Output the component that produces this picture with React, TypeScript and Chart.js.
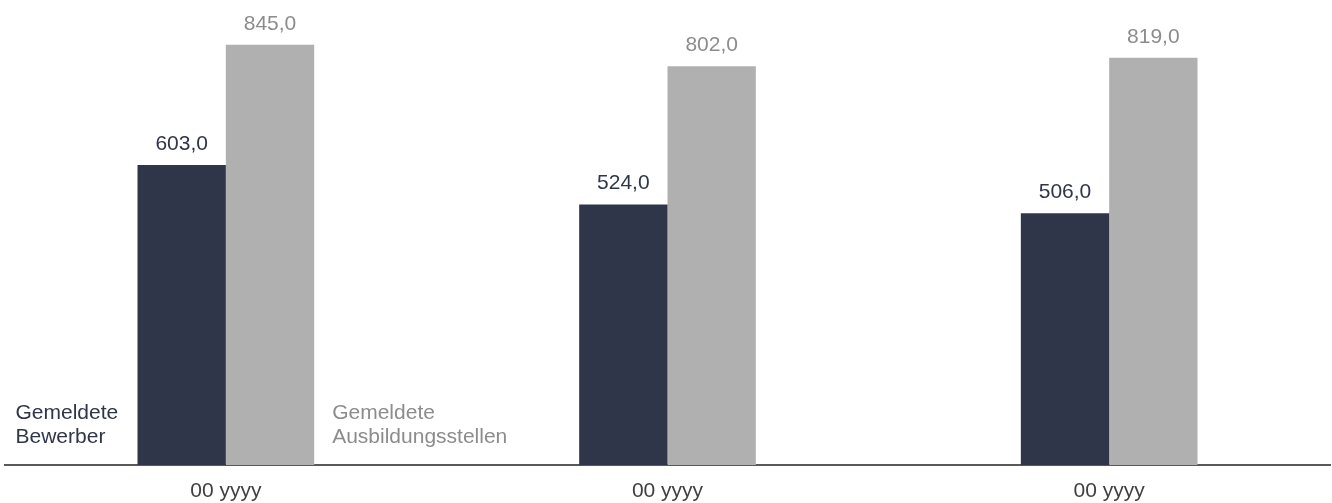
import React, { useEffect, useRef } from "react";
import { Chart, registerables } from "chart.js";

Chart.register(...registerables);

const categories = ["00 yyyy", "00 yyyy", "00 yyyy"];
const seriesNames = ["Gemeldete Bewerber", "Gemeldete Ausbildungsstellen"];
const bewerber = [603, 524, 506];
const stellen = [845, 802, 819];
const legendLines = [["Gemeldete", "Bewerber"], ["Gemeldete", "Ausbildungsstellen"]];

const DARK = "#2F3649";
const GREY = "#B0B0B0";
const GREY_TEXT = "#8C8C8C";
const FONT = 'Arial, "Liberation Sans", sans-serif';

const fmt = (v: number) => v.toFixed(1).replace(".", ",");

const labelPlugin = {
  id: "valueLabels",
  afterDatasetsDraw(chart: any) {
    const ctx = chart.ctx;
    ctx.save();
    ctx.font = `21px ${FONT}`;
    ctx.textAlign = "center";
    ctx.textBaseline = "alphabetic";
    chart.data.datasets.forEach((ds: any, di: number) => {
      const meta = chart.getDatasetMeta(di);
      ctx.fillStyle = di === 0 ? DARK : GREY_TEXT;
      meta.data.forEach((bar: any, i: number) => {
        ctx.fillText(fmt(ds.data[i]), bar.x, bar.y - 15);
      });
    });
    // in-chart legend texts next to the first group
    const area = chart.chartArea;
    const m0 = chart.getDatasetMeta(0).data[0] as any;
    const m1 = chart.getDatasetMeta(1).data[0] as any;
    ctx.textAlign = "left";
    ctx.fillStyle = DARK;
    const x0 = m0.x - m0.width / 2 - 122;
    ctx.fillText(legendLines[0][0], x0, area.bottom - 46);
    ctx.fillText(legendLines[0][1], x0, area.bottom - 22);
    ctx.fillStyle = GREY_TEXT;
    const x1 = m1.x + m1.width / 2 + 18;
    ctx.fillText(legendLines[1][0], x1, area.bottom - 46);
    ctx.fillText(legendLines[1][1], x1, area.bottom - 22);
    ctx.restore();
  },
};

export default function App() {
  const ref = useRef<HTMLCanvasElement | null>(null);
  useEffect(() => {
    if (!ref.current) return;
    const chart = new Chart(ref.current, {
      type: "bar",
      data: {
        labels: categories,
        datasets: [
          { label: seriesNames[0], data: bewerber, backgroundColor: DARK, barPercentage: 1, categoryPercentage: 0.4 },
          { label: seriesNames[1], data: stellen, backgroundColor: GREY, barPercentage: 1, categoryPercentage: 0.4 },
        ],
      },
      options: {
        animation: false,
        responsive: false,
        maintainAspectRatio: false,
        layout: { padding: { left: 5, right: 2, top: 0, bottom: 0 } },
        plugins: { legend: { display: false }, tooltip: { enabled: false } },
        scales: {
          x: {
            grid: { display: false, drawTicks: false },
            border: { display: true, color: "#595959", width: 2 },
            ticks: { color: "#404040", font: { family: FONT, size: 21 }, padding: 14, maxRotation: 0 },
            afterFit: (scale: any) => {
              scale.height = 38;
            },
          },
          y: {
            display: false,
            min: 0,
            max: 935,
            grid: { display: false },
          },
        },
      },
      plugins: [labelPlugin],
    });
    return () => chart.destroy();
  }, []);
  return (
    <div style={{ position: "absolute", left: 0, top: 0, width: 1332, height: 503 }}>
      <canvas ref={ref} width={1332} height={503} style={{ width: 1332, height: 503 }} />
    </div>
  );
}
